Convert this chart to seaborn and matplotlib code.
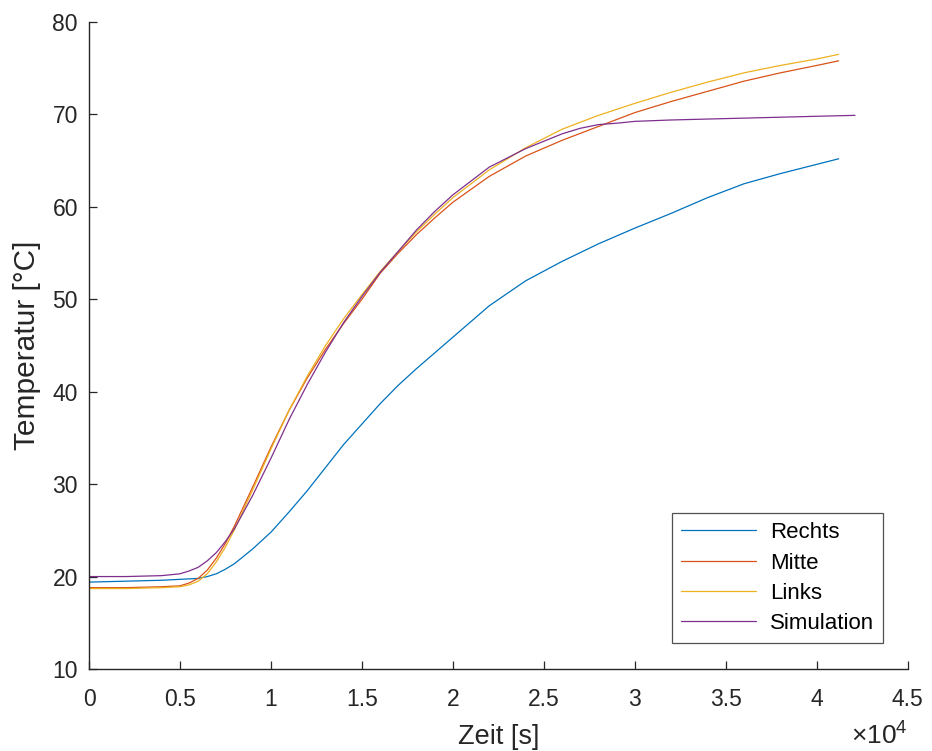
import matplotlib
matplotlib.use("Agg")
import matplotlib.pyplot as plt
import numpy as np
import pandas as pd
import seaborn as sns

# Measured temperatures (time in seconds)
t_meas = [0, 2000, 4000, 5000, 5500, 6000, 6500, 7000, 7500, 8000, 9000, 10000,
          11000, 12000, 13000, 14000, 15000, 16000, 17000, 18000, 19000, 20000,
          22000, 24000, 26000, 28000, 30000, 32000, 34000, 36000, 38000, 40000, 41200]
rechts = [19.4, 19.5, 19.6, 19.7, 19.75, 19.8, 20.0, 20.3, 20.8, 21.4, 23.0, 24.8,
          27.0, 29.3, 31.8, 34.3, 36.5, 38.7, 40.7, 42.5, 44.2, 45.9,
          49.3, 52.0, 54.1, 56.0, 57.7, 59.3, 61.0, 62.5, 63.6, 64.6, 65.2]
mitte = [18.8, 18.8, 18.9, 19.0, 19.3, 19.8, 20.7, 22.0, 23.6, 25.5, 29.7, 34.0,
         38.0, 41.5, 44.6, 47.4, 50.0, 52.8, 55.0, 57.0, 58.8, 60.5,
         63.3, 65.5, 67.2, 68.7, 70.2, 71.4, 72.5, 73.6, 74.5, 75.3, 75.8]
links = [18.7, 18.7, 18.8, 18.9, 19.1, 19.5, 20.3, 21.6, 23.2, 25.1, 29.4, 33.8,
         38.0, 41.7, 45.0, 47.9, 50.5, 53.0, 55.2, 57.3, 59.2, 61.0,
         64.0, 66.4, 68.4, 69.9, 71.2, 72.4, 73.5, 74.5, 75.3, 76.0, 76.5]

# Simulated temperature
t_sim = [0, 2000, 4000, 5000, 5500, 6000, 6500, 7000, 7500, 8000, 9000, 10000,
         11000, 12000, 13000, 14000, 15000, 16000, 17000, 18000, 19000, 20000,
         22000, 24000, 26000, 27000, 28000, 29000, 30000, 32000, 34000, 36000,
         38000, 40000, 42100]
simulation = [20.0, 20.0, 20.1, 20.3, 20.6, 21.0, 21.7, 22.6, 23.8, 25.2, 28.8, 32.8,
              37.0, 40.8, 44.3, 47.5, 50.3, 52.9, 55.2, 57.5, 59.5, 61.3,
              64.3, 66.3, 67.9, 68.5, 68.9, 69.05, 69.25, 69.4, 69.5, 69.6,
              69.7, 69.8, 69.9]

series_names = ["Rechts", "Mitte", "Links", "Simulation"]
colors = ["#0072BD", "#D95319", "#EDB120", "#7E2F8E"]
x_ticks = [0, 5000, 10000, 15000, 20000, 25000, 30000, 35000, 40000, 45000]
y_ticks = [10, 20, 30, 40, 50, 60, 70, 80]

frames = []
for name, t, v in [("Rechts", t_meas, rechts), ("Mitte", t_meas, mitte),
                   ("Links", t_meas, links), ("Simulation", t_sim, simulation)]:
    frames.append(pd.DataFrame({"Zeit": t, "Temperatur": v, "Sensor": name}))
df = pd.concat(frames, ignore_index=True)

sns.set_theme(style="ticks")
plt.rcParams["font.family"] = ["Liberation Sans", "DejaVu Sans"]
plt.rcParams["mathtext.default"] = "regular"

fig = plt.figure(figsize=(9.32, 7.51), dpi=100)
ax = fig.add_axes([0.0955, 0.1092, 0.8785, 0.8615])

sns.lineplot(data=df, x="Zeit", y="Temperatur", hue="Sensor",
             hue_order=series_names, palette=colors, sort=False,
             estimator=None, linewidth=0.9, ax=ax)

ax.set_xlim(0, 45000)
ax.set_ylim(10, 80)
ax.set_xticks(x_ticks)
ax.set_xticklabels([f"{v / 1e4:g}" for v in x_ticks])
ax.set_yticks(y_ticks)

edge = "#262626"
for s in ["top", "right"]:
    ax.spines[s].set_visible(False)
for s in ["left", "bottom"]:
    ax.spines[s].set_color(edge)
    ax.spines[s].set_linewidth(1.0)

ax.tick_params(axis="both", direction="in", length=5.8, width=0.9,
               colors=edge, labelsize=16.5)
ax.tick_params(axis="x", pad=14)
ax.tick_params(axis="y", pad=8)

ax.set_xlabel("Zeit [s]", fontsize=19.5, color=edge, labelpad=9)
ax.set_ylabel("Temperatur [°C]", fontsize=21.5, color=edge, labelpad=8)

# scale factor of the time axis
ax.text(1.0, -0.1175, r"$\times10^{4}$", transform=ax.transAxes,
        ha="right", va="baseline", fontsize=19, color=edge)

leg = ax.legend(loc="lower right", bbox_to_anchor=(0.9695, 0.040),
                borderaxespad=0, fancybox=False, frameon=True,
                fontsize=16, handlelength=3.4, labelspacing=0.42,
                handletextpad=0.6, borderpad=0.4)
leg.get_frame().set_edgecolor(edge)
leg.get_frame().set_linewidth(0.9)
for txt in leg.get_texts():
    txt.set_color("#000000")

fig.savefig("out.png", dpi=100)
